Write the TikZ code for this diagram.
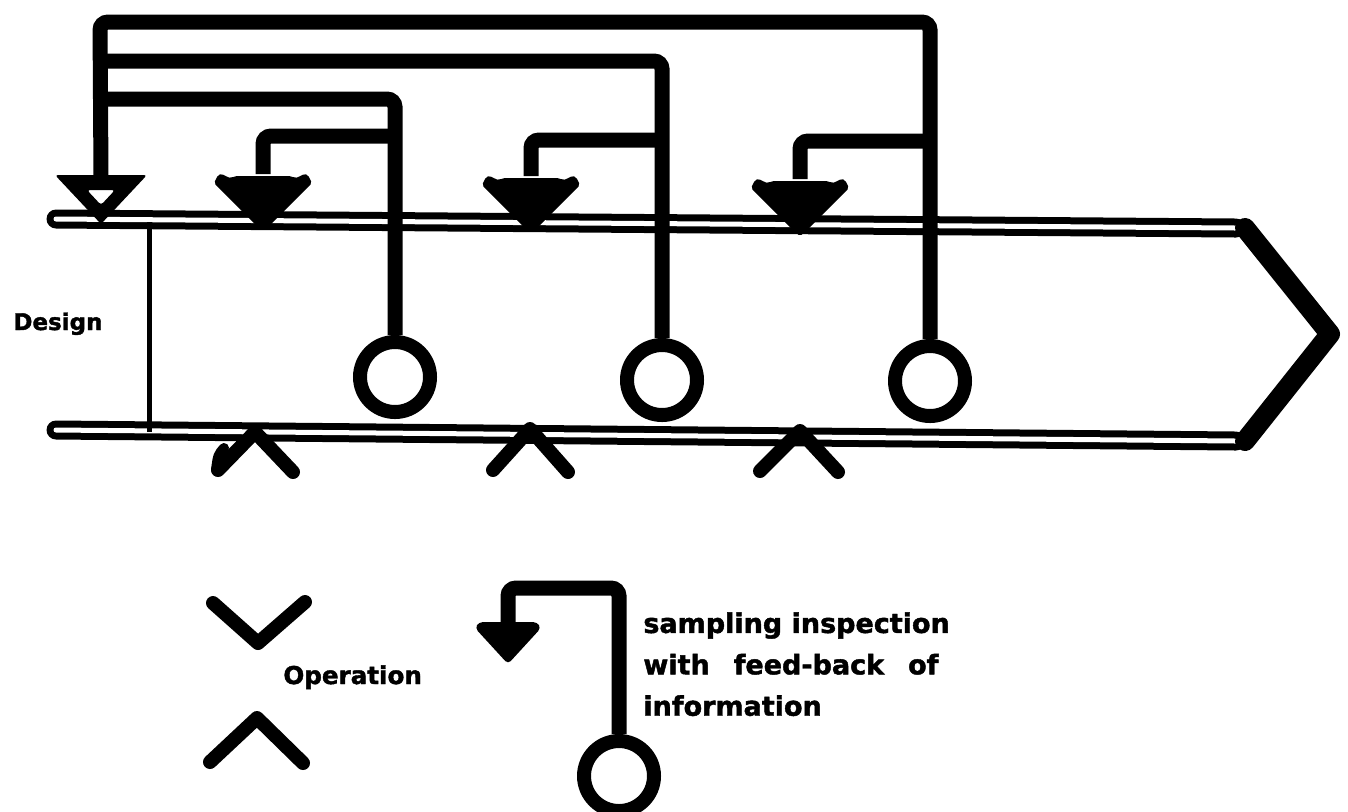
\documentclass[tikz,border=0pt]{standalone}
\usepackage{fontspec}
\setmainfont{DejaVu Sans}[BoldFeatures={FakeBold=1.6}]
\begin{document}
\begin{tikzpicture}[x=0.5pt,y=-0.5pt,
  band/.style={line width=3.5pt, double=white, double distance=2.5pt, line cap=round},
  fb/.style={line width=7.5pt, rounded corners=4pt},
  opstroke/.style={line width=7pt, line cap=round, line join=round},
  sample/.style={circle, draw, line width=7pt, minimum size=35pt, inner sep=0pt},
  lbl/.style={inner sep=0pt, anchor=base west},
  fbhead/.pic={\fill[rounded corners=1pt] (-49,9) -- (-45,1)
      .. controls (-39,-1) and (-35,6) .. (-28,2) -- (28,2)
      .. controls (35,6) and (39,-1) .. (45,1) -- (49,9) -- (5,53) -- (0,57) -- (-5,53) -- cycle;},
  smallhead/.pic={\fill[rounded corners=2pt] (-33,6) -- (-29,0) -- (29,0) -- (33,6) -- (0,42) -- cycle;}
]
\useasboundingbox (0,0) rectangle (1348,811);

% process band with pointed end
\draw[band] (56,219) -- (1236,228);
\draw[band] (56,430) -- (1236,441);
\draw[line width=10pt, line cap=round, line join=round] (1245,228) -- (1330,334) -- (1245,441);
\draw[line width=2.5pt] (149,222) -- (149,432);

% design label
\node[lbl, font=\bfseries\fontsize{11.5}{13}\selectfont] (design) at (13,330) {Design};

% operations
\draw[opstroke] (218,470) -- (255,432) -- (293,472);
\draw[opstroke] (493,470) -- (530,429) -- (568,472);
\draw[opstroke] (760,471) -- (800,431) -- (838,472);
\draw[line width=5pt, line cap=round] (224,448) .. controls (218,455) .. (216,470);

% inspection points
\node[sample] (c1) at (395,377) {};
\node[sample] (c2) at (662,380) {};
\node[sample] (c3) at (930,381) {};

% heads on the band
\coordinate (h0) at (101,176);
\coordinate (a1) at (263,174);
\coordinate (a2) at (531,176);
\coordinate (a3) at (800,179);
\coordinate (b1) at (395,136);
\coordinate (b2) at (662,140);
\coordinate (b3) at (930,141);

% feed-back lines
\draw[fb] (c3.north) |- (100,22) -- (h0);
\draw[fb] (c2.north) |- (100,61);
\draw[fb] (c1.north) |- (100,99);
\draw[fb] (b1) -| (a1);
\draw[fb] (b2) -| (a2);
\draw[fb] (b3) -| (a3);

\pic at (a1) {fbhead};
\pic at (a2) {fbhead};
\pic at (a3) {fbhead};

% hollow head at the start
\fill[even odd rule, rounded corners=1.5pt] (55,175) -- (147,175) -- (101,224) -- cycle
      (87,190) -- (115,190) -- (101,205) -- cycle;

% key
\draw[opstroke] (213,603) -- (258,643) -- (305,602);
\draw[opstroke] (210,762) -- (257,718) -- (303,763);
\node[lbl, font=\bfseries\fontsize{12.3}{14}\selectfont] (oper) at (283,684) {Operation};

\node[sample] (lc) at (619,776) {};
\coordinate (la) at (508,622);
\draw[fb] (lc.north) |- (508,588) -- (la);
\pic at (la) {smallhead};
\node[inner sep=0pt, anchor=north west, align=left,
      font=\bfseries\fontsize{13.5}{20.7}\selectfont] (legtext) at (643,612)
  {sampling inspection\\with\hspace{12pt}feed-back\hspace{12pt}of\\information};
\end{tikzpicture}
\end{document}
